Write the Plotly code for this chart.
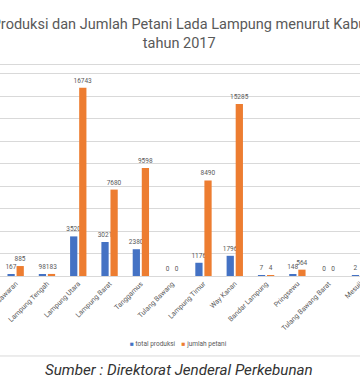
import plotly.graph_objects as go

categories = ["Pesawaran", "Lampung Tengah", "Lampung Utara", "Lampung Barat", "Tanggamus",
              "Tulang Bawang", "Lampung Timur", "Way Kanan", "Bandar Lampung", "Pringsewu",
              "Tulang Bawang Barat", "Mesuji"]
total_produksi = [167, 98, 3520, 3021, 2380, 0, 1176, 1796, 7, 148, 0, 2]
jumlah_petani = [885, 183, 16743, 7680, 9598, 0, 8490, 15285, 4, 564, 0, 5]
series_names = ["total produksi", "jumlah petani"]
series_colors = ["#4472C4", "#ED7D31"]
title_text = "Total Produksi dan Jumlah Petani Lada Lampung menurut Kabupaten<br>tahun 2017"
source_text = "Sumber : Direktorat Jenderal Perkebunan"

GRAY = "#595959"
FONT = "Roboto"

fig = go.Figure()
for name, vals, col in zip(series_names, [total_produksi, jumlah_petani], series_colors):
    fig.add_trace(go.Bar(
        x=categories, y=vals, name=name,
        marker=dict(color=col, line=dict(color=col, width=0.01)),
        text=[str(v) for v in vals], textposition="outside",
        textfont=dict(size=6.5, color=GRAY, family=FONT),
        cliponaxis=False, constraintext="none", showlegend=False,
    ))

legend_html = "    ".join(
    f'<span style="color:{c}">■</span> {n}' for n, c in zip(series_names, series_colors)
)

fig.update_layout(
    width=360, height=388,
    margin=dict(l=0, r=0, t=65, b=112, autoexpand=False),
    paper_bgcolor="white", plot_bgcolor="white",
    barmode="group", bargap=0.42, bargroupgap=0.2,
    font=dict(family=FONT, color=GRAY),
    title=dict(text=title_text, x=0.498, xanchor="center", xref="paper",
               yref="container", y=1 - 29 / 388, yanchor="top",
               font=dict(size=14.5, color=GRAY, family=FONT)),
    xaxis=dict(range=[-0.5, 11.0], showline=True, mirror=True, linecolor="#d9d9d9",
               linewidth=1, tickangle=-45, tickfont=dict(size=7, color=GRAY),
               ticks="", showgrid=False, fixedrange=True, automargin=False),
    yaxis=dict(range=[0, 18756], dtick=2000, showgrid=True, gridcolor="#d9d9d9",
               gridwidth=1, zeroline=False, showticklabels=False, ticks="",
               automargin=False, fixedrange=True),
    annotations=[
        dict(text=legend_html, xref="paper", yref="paper", x=0.497, y=-0.322,
             xanchor="center", yanchor="middle", showarrow=False,
             font=dict(size=6.5, color=GRAY, family=FONT)),
        dict(text=f"<i>{source_text}</i>", xref="paper", yref="paper", x=0.497, y=-0.445,
             xanchor="center", yanchor="middle", showarrow=False,
             font=dict(size=15.2, color="#333333", family=FONT)),
    ],
    shapes=[dict(type="line", xref="paper", yref="paper", x0=0, x1=1, y0=-0.379, y1=-0.379,
                 line=dict(color="#d9d9d9", width=1))],
)

fig.write_html("out.html", config={"displayModeBar": False},
               post_script="document.body.style.margin='0';document.body.style.overflow='hidden';")
